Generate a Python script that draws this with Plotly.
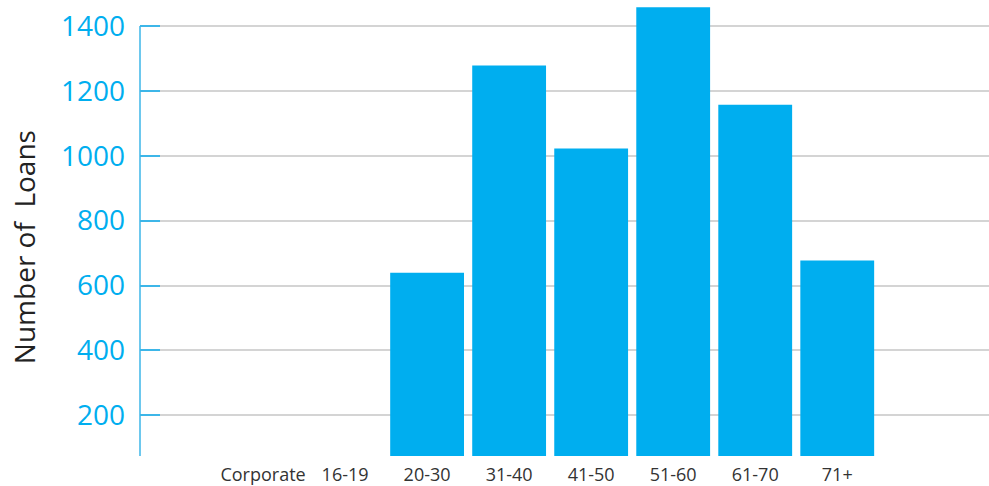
import plotly.graph_objects as go

categories = ["Corporate", "16-19", "20-30", "31-40", "41-50", "51-60", "61-70", "71+"]
loans = [0, 0, 639, 1278, 1022, 1458, 1157, 677]
y_ticks = [200, 400, 600, 800, 1000, 1200, 1400]

BLUE = "#00AEEF"

fig = go.Figure(
    go.Bar(x=categories, y=loans, marker=dict(color=BLUE, line=dict(width=0)))
)

fig.update_layout(
    width=989, height=486,
    margin=dict(l=140, r=0, t=0, b=30),
    paper_bgcolor="white", plot_bgcolor="white",
    bargap=0.1,
    showlegend=False,
    xaxis=dict(
        type="category",
        range=[-1.5, 8.85],
        showgrid=False, showline=False, zeroline=False,
        ticks="",
        tickfont=dict(family="Open Sans", size=18, color="#333333"),
        ticklabelstandoff=6,
    ),
    yaxis=dict(
        range=[74.6, 1480],
        tickvals=y_ticks,
        showgrid=True, gridcolor="#d4d4d4", gridwidth=2,
        zeroline=False, showline=False,
        ticks="inside", ticklen=20, tickwidth=1.5, tickcolor="#3db6e8",
        tickfont=dict(family="Open Sans", size=28, color=BLUE),
        ticklabelstandoff=14,
    ),
    annotations=[
        dict(
            text="Number of  Loans", textangle=-90,
            xref="paper", yref="paper",
            x=-(140 - 24) / 849, y=0.458,
            xanchor="center", yanchor="middle",
            showarrow=False,
            font=dict(family="Open Sans", size=28, color="#222222"),
        )
    ],
    shapes=[
        dict(
            type="line", xref="paper", yref="y",
            x0=0, x1=0, y0=74.6, y1=1400,
            line=dict(color="#3db6e8", width=1.5),
        )
    ],
)

fig.write_html("out.html")
